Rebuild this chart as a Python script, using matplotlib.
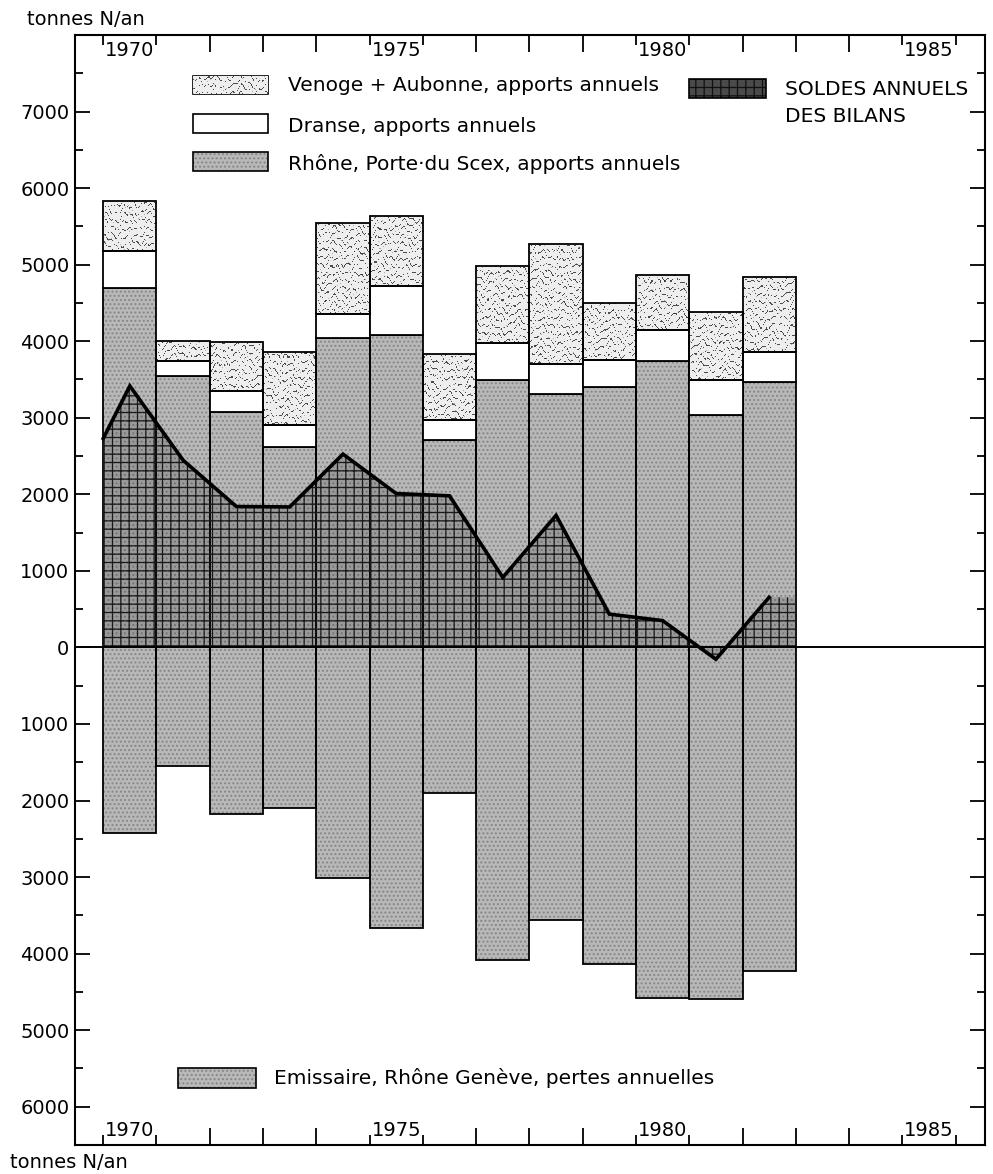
import numpy as np
import matplotlib
matplotlib.use("Agg")
import matplotlib.pyplot as plt
from matplotlib.patches import Rectangle
from matplotlib.ticker import FixedLocator, MultipleLocator, FuncFormatter
from matplotlib.transforms import blended_transform_factory

# Bilan annuel de l'azote du Léman (tonnes N/an)
annees = [1970, 1971, 1972, 1973, 1974, 1975, 1976, 1977, 1978, 1979, 1980, 1981, 1982]
rhone_scex = [4700, 3550, 3070, 2620, 4040, 4085, 2715, 3495, 3305, 3405, 3745, 3035, 3470]
dranse = [480, 185, 280, 285, 315, 640, 255, 480, 395, 350, 405, 460, 385]
venoge_aubonne = [650, 265, 645, 960, 1190, 910, 865, 1010, 1565, 750, 720, 880, 985]
emissaire_geneve = [2425, 1545, 2175, 2100, 3015, 3660, 1900, 4085, 3555, 4130, 4575, 4595, 4225]
soldes = [3415, 2445, 1840, 1835, 2525, 2010, 1980, 915, 1725, 435, 350, -155, 655]
solde_depart = 2730          # valeur du trait au bord gauche de 1970
annees_etiquetees = [1970, 1975, 1980, 1985]
graduations_y = list(range(-6000, 7001, 1000))

plt.rcParams["font.family"] = ["DejaVu Sans"]
plt.rcParams["hatch.linewidth"] = 0.9

fig = plt.figure(figsize=(9.93, 11.74), dpi=100)
ax = fig.add_axes([0.0755, 0.0247, 0.9164, 0.9455])
XLIM = (1969.47, 1986.55)
YLIM = (-6500, 8000)

x = np.array(annees, dtype=float)
r = np.array(rhone_scex, dtype=float)
d = np.array(dranse, dtype=float)
v = np.array(venoge_aubonne, dtype=float)
e = np.array(emissaire_geneve, dtype=float)

GRIS = "#b8b8b8"
POINTS = "#858585"
EDGE_LW = 1.3

# texture ondulée (Venoge + Aubonne)
ny, nx = 1110, 910
jj, ii = np.meshgrid(np.arange(nx), np.arange(ny))
onde = np.sin(2 * np.pi * (ii / 7.5
                           + 0.55 * np.sin(2 * np.pi * jj / 23.0)
                           + 0.25 * np.sin(2 * np.pi * jj / 8.5 + ii / 11.0)))
tache = np.sin(2 * np.pi * jj / 5.3 + ii / 3.1) * np.sin(2 * np.pi * ii / 4.7 - jj / 6.0)
texture = np.where((onde > 0.88) & (tache > -0.2), 0.85, 0.0)
texture += np.where(tache > 0.96, 0.35, 0.0)
texture = np.clip(texture, 0, 1)
cmap_onde = matplotlib.colors.LinearSegmentedColormap.from_list("onde", ["#eeeeee", "#303030"])


def texturer(patch, z):
    im = ax.imshow(texture, extent=[XLIM[0], XLIM[1], YLIM[0], YLIM[1]], origin="upper",
                   cmap=cmap_onde, vmin=0, vmax=1, aspect="auto",
                   interpolation="nearest", zorder=z)
    im.set_clip_path(patch)


# apports : Rhône (Porte du Scex), Dranse, Venoge + Aubonne
ax.bar(x, r, width=1.0, align="edge", facecolor=GRIS, edgecolor=POINTS,
       hatch="....", linewidth=0, zorder=2)
ax.bar(x, r, width=1.0, align="edge", facecolor="none", edgecolor="black",
       linewidth=EDGE_LW, zorder=2.5)
ax.bar(x, d, bottom=r, width=1.0, align="edge", facecolor="white",
       edgecolor="black", linewidth=EDGE_LW, zorder=2.5)
bv = ax.bar(x, v, bottom=r + d, width=1.0, align="edge", facecolor="#eeeeee",
            edgecolor="none", linewidth=0, zorder=2)
for rect in bv:
    texturer(rect, 2.2)
ax.bar(x, v, bottom=r + d, width=1.0, align="edge", facecolor="none",
       edgecolor="black", linewidth=EDGE_LW, zorder=2.5)

# pertes : émissaire, Rhône à Genève
ax.bar(x, -e, width=1.0, align="edge", facecolor=GRIS, edgecolor=POINTS,
       hatch="....", linewidth=0, zorder=2)
ax.bar(x, -e, width=1.0, align="edge", facecolor="none", edgecolor="black",
       linewidth=EDGE_LW, zorder=2.5)

# soldes annuels des bilans
xs = np.concatenate([[x[0]], x + 0.5])
ys = np.concatenate([[solde_depart], soldes])
xf = np.concatenate([xs, [x[-1] + 1.0]])
yf = np.concatenate([ys, [soldes[-1]]])
ax.fill_between(xf, 0, yf, facecolor=(0.2, 0.2, 0.2, 0.22), edgecolor="#1a1a1a",
                hatch="++", linewidth=0, zorder=3)
ax.plot(xs, ys, color="black", linewidth=2.6, solid_joinstyle="miter", zorder=5)

ax.axhline(0, color="black", linewidth=1.4, zorder=4)

ax.set_xlim(*XLIM)
ax.set_ylim(*YLIM)

# graduations
ax.xaxis.set_major_locator(FixedLocator([a + k for a in annees_etiquetees for k in (0, 1)]))
ax.xaxis.set_minor_locator(FixedLocator(range(1970, 1987)))
ax.yaxis.set_major_locator(FixedLocator(graduations_y))
ax.yaxis.set_minor_locator(MultipleLocator(500))
ax.yaxis.set_major_formatter(FuncFormatter(lambda val, pos: f"{abs(int(round(val)))}"))
ax.tick_params(which="both", direction="in", top=True, right=True, bottom=True, left=True,
               width=1.3, labelbottom=False, labeltop=False, labelright=False)
ax.tick_params(axis="x", which="major", length=7)
ax.tick_params(axis="x", which="minor", length=12)
ax.tick_params(axis="y", which="major", length=11, labelsize=14, pad=4)
ax.tick_params(axis="y", which="minor", length=6)
for s in ax.spines.values():
    s.set_linewidth(1.5)

tr = blended_transform_factory(ax.transData, ax.transAxes)
for a in annees_etiquetees:
    ax.text(a + 0.5, 0.9856, str(a), transform=tr, ha="center", va="center", fontsize=14)
    ax.text(a + 0.5, 0.0130, str(a), transform=tr, ha="center", va="center", fontsize=14)

fig.text(0.027, 0.983, "tonnes N/an", ha="left", va="center", fontsize=14)
fig.text(0.010, 0.0095, "tonnes N/an", ha="left", va="center", fontsize=14)

# légendes
def boite(x0, y0, w, h, **kw):
    p = Rectangle((x0, y0), w, h, transform=ax.transAxes, clip_on=False, zorder=6, **kw)
    ax.add_patch(p)
    return p


LW_BOX = 1.2
TXT = 14.5
pv = boite(0.1297, 0.9468, 0.0824, 0.0162, facecolor="#eeeeee", edgecolor="none")
texturer(pv, 6.1)
boite(0.1297, 0.9468, 0.0824, 0.0162, facecolor="none", edgecolor="black", linewidth=LW_BOX)
ax.text(0.234, 0.9545, "Venoge + Aubonne, apports annuels", transform=ax.transAxes,
        ha="left", va="center", fontsize=TXT, zorder=7)

boite(0.1297, 0.9117, 0.0824, 0.0171, facecolor="white", edgecolor="black", linewidth=LW_BOX)
ax.text(0.234, 0.918, "Dranse, apports annuels", transform=ax.transAxes,
        ha="left", va="center", fontsize=TXT, zorder=7)

boite(0.1297, 0.8775, 0.0824, 0.0171, facecolor=GRIS, edgecolor=POINTS, hatch="....", linewidth=0)
boite(0.1297, 0.8775, 0.0824, 0.0171, facecolor="none", edgecolor="black", linewidth=LW_BOX)
ax.text(0.234, 0.8835, "Rhône, Porte·du Scex, apports annuels", transform=ax.transAxes,
        ha="left", va="center", fontsize=TXT, zorder=7)

boite(0.6747, 0.9432, 0.0846, 0.0172, facecolor="#4a4a4a", edgecolor="#111111", hatch="++", linewidth=0)
boite(0.6747, 0.9432, 0.0846, 0.0172, facecolor="none", edgecolor="black", linewidth=LW_BOX)
ax.text(0.780, 0.9505, "SOLDES ANNUELS", transform=ax.transAxes,
        ha="left", va="center", fontsize=TXT, zorder=7)
ax.text(0.780, 0.9265, "DES BILANS", transform=ax.transAxes,
        ha="left", va="center", fontsize=TXT, zorder=7)

boite(0.1132, 0.0514, 0.0857, 0.018, facecolor=GRIS, edgecolor=POINTS, hatch="....", linewidth=0)
boite(0.1132, 0.0514, 0.0857, 0.018, facecolor="none", edgecolor="black", linewidth=LW_BOX)
ax.text(0.2187, 0.0604, "Emissaire, Rhône Genève, pertes annuelles", transform=ax.transAxes,
        ha="left", va="center", fontsize=TXT, zorder=7)

fig.savefig("out.png", dpi=100)
